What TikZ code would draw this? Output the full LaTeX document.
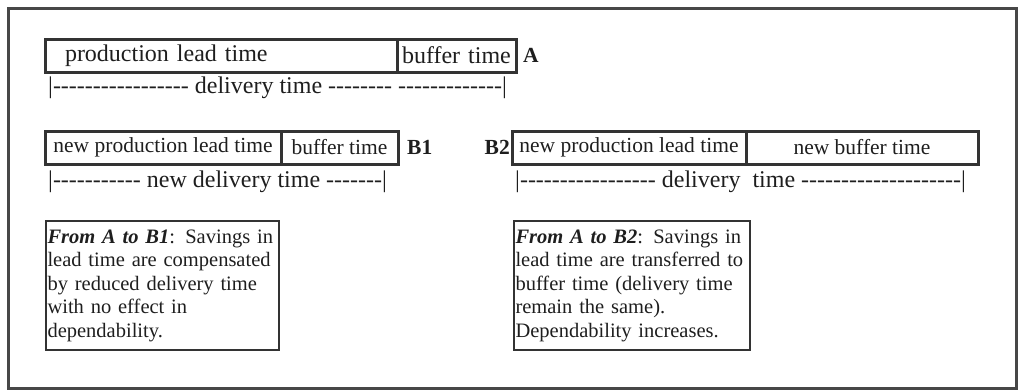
\documentclass[tikz,border=0pt]{standalone}
\usepackage{fontspec}
\setmainfont{Liberation Serif}[Ligatures=TeXOff]
\newcommand\dashrep[1]{\count255=0 \loop\ifnum\count255<#1 -\advance\count255 by 1 \repeat}
\definecolor{ink}{HTML}{1E1E1E}
\definecolor{edge}{HTML}{333333}
\begin{document}
\begin{tikzpicture}[x=1pt,y=-1pt,
  seg/.style={draw=edge, line width=3pt, outer sep=0pt, inner sep=0pt, minimum height=33pt, text=ink},
  fa/.style={font=\fontsize{24}{28}\selectfont},
  fb/.style={font=\fontsize{21.5}{25}\selectfont},
  lab/.style={font=\fontsize{21.5}{25}\selectfont\bfseries, text=ink, inner sep=0pt},
  dline/.style={font=\fontsize{24}{28}\selectfont, text=ink, inner sep=0pt, anchor=west},
  note/.style={draw=edge, line width=2.5pt, outer sep=0pt, inner xsep=1.5pt, inner ysep=0pt,
    anchor=north west, minimum height=129pt, align=left, text=ink,
    font=\fontsize{20.5}{23.5}\selectfont}]
\useasboundingbox (0,0) rectangle (1019,391);
\draw[draw=edge!90, line width=2.5pt] (8.5,8.5) rectangle (1016.5,388.5);

% A
\node[seg, fa, minimum width=352pt, anchor=west, inner xsep=20pt, text width=312pt, align=left] (A1) at (45,55.5) {\mbox{production lead time}};
\node[seg, fa, minimum width=119pt, anchor=west, inner xsep=5pt, text width=109pt, align=left] (A2) at (A1.east) {\mbox{buffer time}};
\node[lab, anchor=west] (Alab) at ([xshift=7pt]A2.east) {A};
\node[dline] (dA) at (48,88) {|\dashrep{17} delivery time \dashrep{8} \dashrep{13}|};

% B1
\node[seg, fb, minimum width=236pt, anchor=west] (B11) at (45,147.5) {new production lead time};
\node[seg, fb, minimum width=117pt, anchor=west] (B12) at (B11.east) {buffer time};
\node[lab, anchor=west] (B1lab) at ([xshift=9pt]B12.east) {B1};
\node[dline] (dB1) at (48,182) {|\dashrep{11} new delivery time \dashrep{7}|};

% B2
\node[seg, fb, minimum width=234pt, anchor=west] (B21) at (512,147.5) {new production lead time};
\node[seg, fb, minimum width=232pt, anchor=west] (B22) at (B21.east) {new buffer time};
\node[lab, anchor=east] (B2lab) at ([xshift=-2pt]B21.west) {B2};
\node[dline] (dB2) at (515,182) {|\dashrep{17} delivery\ \ time \dashrep{20}|};

% notes
\node[note, minimum width=233pt, text width=230pt] (N1) at (46,221)
 {\mbox{\textbf{\textit{From A to B1}}: Savings in}\\
  \mbox{lead time are compensated}\\
  \mbox{by reduced delivery time}\\
  \mbox{with no effect in}\\
  \mbox{dependability.}};
\node[note, minimum width=236pt, text width=233pt] (N2) at (514,221)
 {\mbox{\textbf{\textit{From A to B2}}: Savings in}\\
  \mbox{lead time are transferred to}\\
  \mbox{buffer time (delivery time}\\
  \mbox{remain the same).}\\
  \mbox{Dependability increases.}};
\end{tikzpicture}
\end{document}
